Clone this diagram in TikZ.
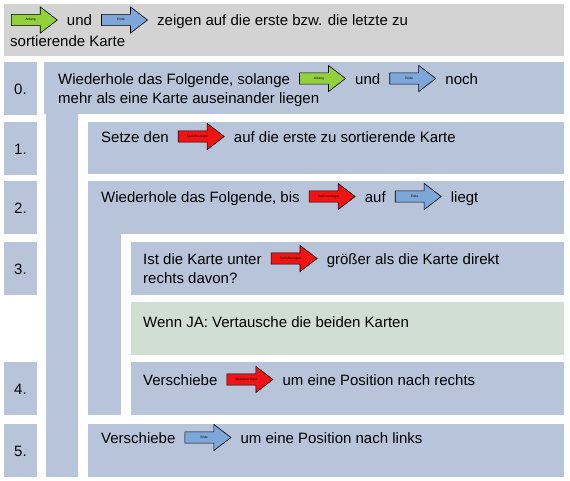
\documentclass[tikz,border=0pt]{standalone}
\usepackage{fontspec}
\setmainfont{Liberation Sans}
\usetikzlibrary{positioning,shapes.arrows}
\definecolor{kopf}{RGB}{211,211,211}
\definecolor{kasten}{RGB}{183,196,218}
\definecolor{jafeld}{RGB}{208,222,212}
\definecolor{anfang}{RGB}{146,208,60}
\definecolor{ende}{RGB}{125,167,217}
\definecolor{zeiger}{RGB}{240,20,20}
\begin{document}
\begin{tikzpicture}[x=1pt, y=-1pt, node distance=9pt,
	zeile/.style={font=\fontsize{15}{19}\selectfont, inner sep=0pt, text height=11pt, text depth=0pt},
	pfeil/.style={single arrow, draw=black, fill=#1, line width=0.6pt, minimum height=46pt,
		single arrow head extend=7.5pt, single arrow tip angle=75, inner sep=3.8pt,
		text height=2.4pt, text depth=0.6pt, font=\fontsize{3.2}{3.2}\selectfont}]
	\useasboundingbox (0,0) rectangle (570,480);
	\fill[kopf] (4,4) rectangle (564,56);
	\fill[kasten] (44,62) rectangle (564,114);
	\fill[kasten] (46,114) rectangle (78,477);
	\fill[kasten] (88,122) rectangle (564,174);
	\fill[kasten] (88,181) rectangle (564,234);
	\fill[kasten] (88,234) rectangle (121,415);
	\fill[kasten] (131,242) rectangle (564,295);
	\fill[jafeld] (131,302) rectangle (564,355);
	\fill[kasten] (131,362) rectangle (564,415);
	\fill[kasten] (88,424) rectangle (564,477);
	\foreach \oben/\nr in {62/0, 122/1, 181/2, 242/3, 362/4, 424/5} {
		\fill[kasten] (4,\oben) rectangle (37,\oben+53);
		\node[zeile] (nr\nr) at (20.5,\oben+26.5) {\nr.};
	}
	\node[pfeil=anfang, anchor=west] (kopfa) at (11,20) {Anfang};
	\node[zeile, right=of kopfa] (kopf1) {und};
	\node[pfeil=ende, right=of kopf1] (kopfe) {Ende};
	\node[zeile, right=of kopfe] (kopf2) {zeigen auf die erste bzw. die letzte zu};
	\node[zeile, anchor=base west] (kopf3) at (10,46) {sortierende Karte};
	\node[zeile, anchor=base west] (null1) at (58,84) {Wiederhole das Folgende, solange};
	\node[pfeil=anfang, right=of null1] (nulla) {Anfang};
	\node[zeile, right=of nulla] (null2) {und};
	\node[pfeil=ende, right=of null2] (nulle) {Ende};
	\node[zeile, right=of nulle] (null3) {noch};
	\node[zeile, anchor=base west] (null4) at (58,103) {mehr als eine Karte auseinander liegen};
	\node[zeile, anchor=base west] (eins1) at (101,142) {Setze den};
	\node[pfeil=zeiger, right=of eins1] (einsz) {Speicherzeiger};
	\node[zeile, right=of einsz] (eins2) {auf die erste zu sortierende Karte};
	\node[zeile, anchor=base west] (zwei1) at (101,202) {Wiederhole das Folgende, bis};
	\node[pfeil=zeiger, right=of zwei1] (zweiz) {Speicherzeiger};
	\node[zeile, right=of zweiz] (zwei2) {auf};
	\node[pfeil=ende, right=of zwei2] (zweie) {Ende};
	\node[zeile, right=of zweie] (zwei3) {liegt};
	\node[zeile, anchor=base west] (drei1) at (143,264) {Ist die Karte unter};
	\node[pfeil=zeiger, right=of drei1] (dreiz) {Speicherzeiger};
	\node[zeile, right=of dreiz] (drei2) {größer als die Karte direkt};
	\node[zeile, anchor=base west] (drei3) at (143,283) {rechts davon?};
	\node[zeile, anchor=base west] (ja) at (143,327) {Wenn JA: Vertausche die beiden Karten};
	\node[zeile, anchor=base west] (vier1) at (143,385) {Verschiebe};
	\node[pfeil=zeiger, right=of vier1] (vierz) {Speicherzeiger};
	\node[zeile, right=of vierz] (vier2) {um eine Position nach rechts};
	\node[zeile, anchor=base west] (fuenf1) at (101,443) {Verschiebe};
	\node[pfeil=ende, right=of fuenf1] (fuenfe) {Ende};
	\node[zeile, right=of fuenfe] (fuenf2) {um eine Position nach links};
\end{tikzpicture}
\end{document}
